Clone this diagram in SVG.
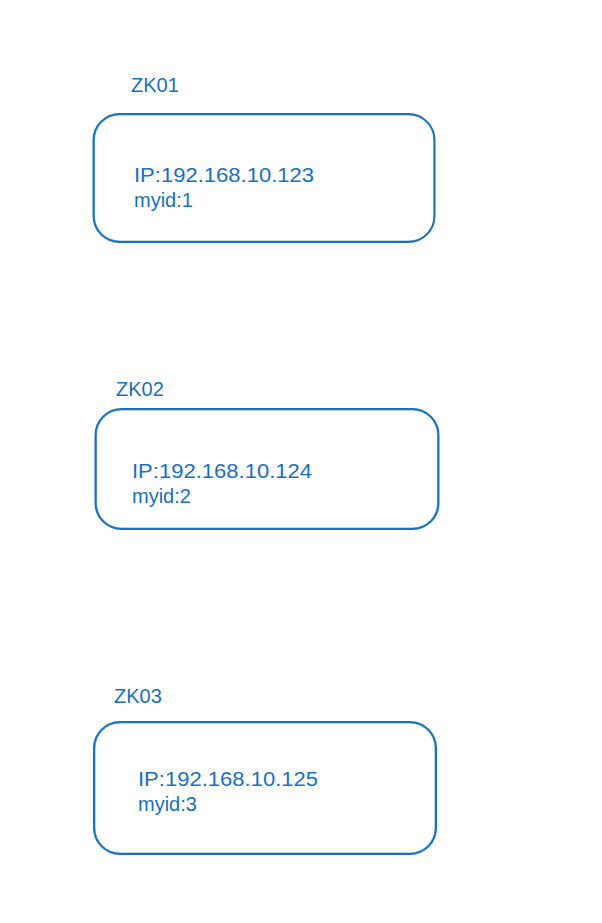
<svg xmlns="http://www.w3.org/2000/svg" width="602" height="923" viewBox="0 0 602 923">
<style>
.box{fill:none;stroke:#1971c2;stroke-width:2;stroke-linecap:round;stroke-linejoin:round}
.sk{fill:none;stroke:#1971c2;stroke-width:1;opacity:0.6}
.t{font-family:"Liberation Sans",Arial,sans-serif;font-size:20px;fill:#1971c2}
</style>
<rect width="602" height="923" fill="#ffffff"/>
<g id="zk01">
<text class="t" x="131" y="92">ZK01</text>
<rect class="box" x="93.5" y="114" width="341" height="128" rx="26"/>
<rect class="sk" x="94.5" y="115" width="339.5" height="126" rx="25"/>
<text class="t" x="134" y="182" textLength="180" lengthAdjust="spacingAndGlyphs">IP:192.168.10.123</text>
<text class="t" x="134" y="207">myid:1</text>
</g>
<g id="zk02">
<text class="t" x="116" y="396">ZK02</text>
<rect class="box" x="95.5" y="409" width="343" height="120" rx="26"/>
<rect class="sk" x="96.5" y="410" width="341" height="118" rx="25"/>
<text class="t" x="132" y="478" textLength="180" lengthAdjust="spacingAndGlyphs">IP:192.168.10.124</text>
<text class="t" x="132" y="503">myid:2</text>
</g>
<g id="zk03">
<text class="t" x="114" y="703">ZK03</text>
<rect class="box" x="94" y="722" width="342" height="132" rx="26"/>
<rect class="sk" x="95" y="723" width="340" height="130" rx="25"/>
<text class="t" x="138" y="786" textLength="180" lengthAdjust="spacingAndGlyphs">IP:192.168.10.125</text>
<text class="t" x="138" y="811">myid:3</text>
</g>
<g id="connectors"></g>
</svg>
